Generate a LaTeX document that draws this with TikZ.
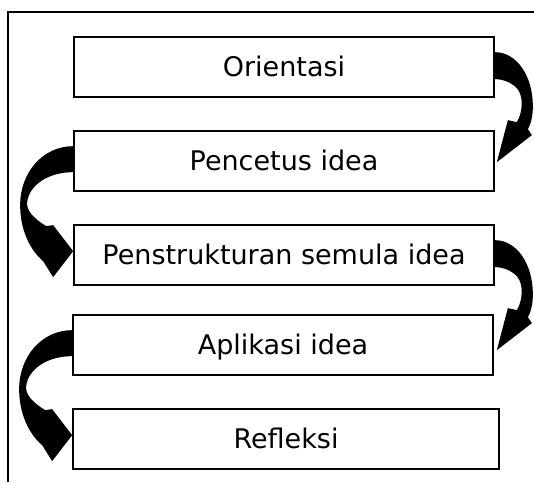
\documentclass[tikz,border=0pt]{standalone}
\usepackage{fontspec}
\setmainfont{DejaVu Sans}
\tikzset{
  stepbox/.style={draw=black, line width=1.7pt, fill=white, minimum width=420pt, minimum height=60pt,
    inner sep=0pt, text height=19.5pt, text depth=0pt, font=\fontsize{27}{32}\selectfont},
  framestyle/.style={draw=black, line width=1.7pt},
  rarrow/.pic={\fill[black] (0,16) .. controls (22,16) and (38,40) .. (38,70)
      .. controls (38,80) and (36,88) .. (33,93) -- (37,99) -- (2,126) -- (13,84) -- (22,86)
      .. controls (28,76) and (29,60) .. (22,52) .. controls (16,46) and (8,43) .. (0,43) -- cycle;},
  larrow/.pic={\fill[black] (0,16) .. controls (-30,16) and (-53,42) .. (-53,75)
      .. controls (-53,100) and (-43,120) .. (-30,131) -- (-20,147) -- (0,121) -- (-20,95) -- (-27,96)
      .. controls (-40,88) and (-47,80) .. (-46,72) .. controls (-44,55) and (-25,42) .. (0,42) -- cycle;}
}
\begin{document}
\begin{tikzpicture}[x=1pt,y=-1pt]
\useasboundingbox (0,0) rectangle (534,482);
\coordinate (fb) at (8,482);
\coordinate (fc) at (8,12);
\coordinate (fr) at (534,12);
\draw[framestyle] (fb) -- (fc) -- (fr);
\node[stepbox] (b1) at (284,67) {Orientasi};
\node[stepbox] (b2) at (284,161) {Pencetus idea};
\node[stepbox] (b3) at (284,255) {Penstrukturan semula idea};
\node[stepbox] (b4) at (283,345) {Aplikasi idea};
\node[stepbox, minimum width=426pt] (b5) at (286,439) {Refleksi};
\pic at (b1.north east) {rarrow};
\pic at (b2.north west) {larrow};
\pic at (b3.north east) {rarrow};
\pic at (b4.north west) {larrow};
\end{tikzpicture}
\end{document}
